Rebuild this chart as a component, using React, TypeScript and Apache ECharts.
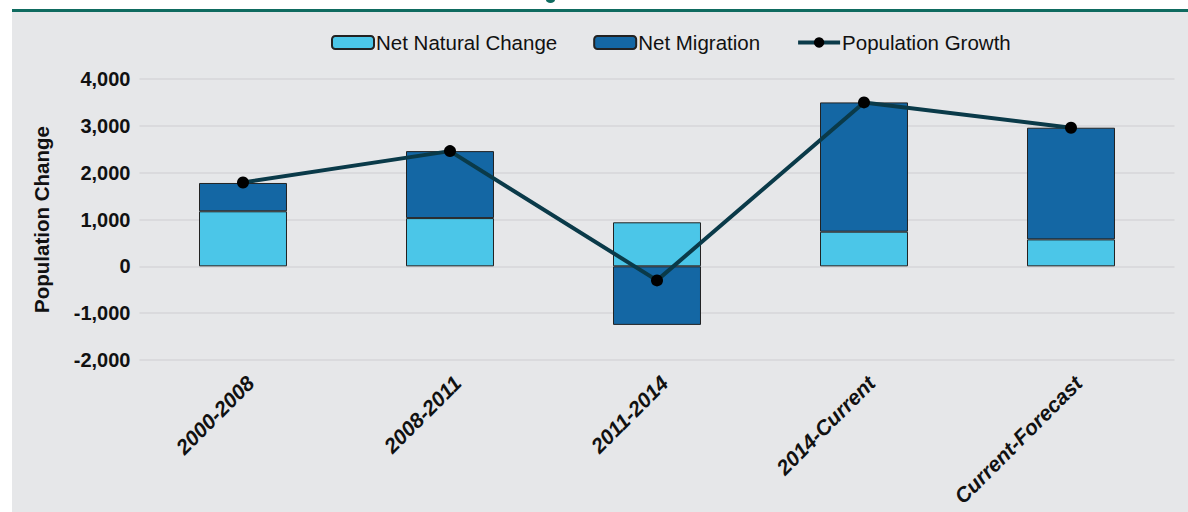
import React, { useEffect, useRef } from "react";
import * as echarts from "echarts";

const categories = ["2000-2008", "2008-2011", "2011-2014", "2014-Current", "Current-Forecast"];
const netNaturalChange = [1175, 1030, 940, 740, 575];
const netMigration = [605, 1430, -1250, 2760, 2385];
const populationGrowth = [1790, 2460, -300, 3500, 2960];

const FONT = "'Liberation Sans', Arial, sans-serif";

export default function App() {
  const ref = useRef<HTMLDivElement>(null);
  useEffect(() => {
    if (!ref.current) return;
    const chart = echarts.init(ref.current, undefined, { renderer: "svg" });
    chart.setOption({
      animation: false,
      backgroundColor: "#ffffff",
      textStyle: { fontFamily: FONT },
      graphic: [
        { type: "rect", z: -10, shape: { x: 12, y: 12, width: 1176, height: 500 }, style: { fill: "#e6e7e9" } },
        { type: "rect", z: -10, shape: { x: 12, y: 9, width: 1176, height: 3 }, style: { fill: "#0f6b60" } },
        { type: "ellipse", z: -10, shape: { cx: 550.5, cy: 0, rx: 4.5, ry: 3 }, style: { fill: "#0f6b60" } },
      ],
      legend: {
        left: 326,
        top: 27,
        itemWidth: 42,
        itemHeight: 13,
        itemGap: 36,
        textStyle: { fontSize: 20.5, color: "#111", fontFamily: FONT, padding: [0, 0, 0, -3] },
        data: [
          { name: "Net Natural Change" },
          { name: "Net Migration" },
          { name: "Population Growth", lineStyle: { width: 4, color: "#0a3a49" } },
        ],
      },
      grid: { left: 139.5, right: 13.5, top: 79, bottom: 152, containLabel: false },
      xAxis: {
        type: "category",
        data: categories,
        axisLine: { show: false, onZero: false },
        axisTick: { show: false },
        axisLabel: {
          rotate: 45,
          margin: 12,
          fontSize: 21,
          fontWeight: "bold",
          fontStyle: "italic",
          color: "#111",
          fontFamily: FONT,
          interval: 0,
          align: "right",
          verticalAlign: "top",
        },
      },
      yAxis: {
        type: "value",
        min: -2000,
        max: 4000,
        interval: 1000,
        name: "Population Change",
        nameLocation: "middle",
        nameGap: 88,
        nameTextStyle: { fontSize: 20.5, fontWeight: "bold", color: "#111", fontFamily: FONT },
        axisLine: { show: false },
        axisTick: { show: false },
        splitLine: { lineStyle: { color: "#d6d6d8", width: 1.5 } },
        axisLabel: {
          fontSize: 20,
          fontWeight: "bold",
          color: "#111",
          margin: 9,
          fontFamily: FONT,
          formatter: (v: number) => v.toLocaleString("en-US"),
        },
      },
      series: [
        {
          name: "Net Natural Change",
          type: "bar",
          stack: "total",
          barWidth: "42.5%",
          data: netNaturalChange,
          itemStyle: { color: "#4bc6e8", borderColor: "#222", borderWidth: 1 },
        },
        {
          name: "Net Migration",
          type: "bar",
          stack: "total",
          barWidth: "42.5%",
          data: netMigration,
          itemStyle: { color: "#1467a4", borderColor: "#222", borderWidth: 1 },
        },
        {
          name: "Population Growth",
          type: "line",
          data: populationGrowth,
          symbol: "circle",
          symbolSize: 12,
          z: 5,
          lineStyle: { color: "#0a3a49", width: 4 },
          itemStyle: { color: "#000", borderWidth: 0 },
        },
      ],
    });
    return () => chart.dispose();
  }, []);
  return (
    <div
      ref={ref}
      style={{ position: "absolute", left: 0, top: 0, width: 1188, height: 512 }}
    />
  );
}
